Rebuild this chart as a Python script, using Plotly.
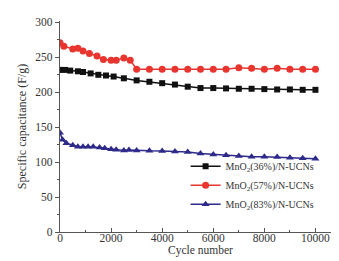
import plotly.graph_objects as go

# ---- data ----
cycles_36 = [0, 200, 400, 700, 900, 1200, 1500, 1800, 2100, 2500, 3000, 3500, 4000,
             4500, 5000, 5500, 6000, 6500, 7000, 7500, 8000, 8500, 9000, 9500, 10000]
cap_36 = [232, 232, 231, 230, 229, 227, 225, 224, 222.5, 220, 217, 215, 213,
          211, 208, 206, 206, 205.5, 205, 205, 204.5, 204, 204, 203.5, 203.5]

cycles_57 = [0, 150, 500, 700, 900, 1150, 1450, 1700, 2000, 2200, 2500, 2750, 3000,
             3500, 4000, 4500, 5000, 5500, 6000, 6500, 7000, 7500, 8000, 8500, 9000, 9500, 10000]
cap_57 = [271, 266, 262, 263, 259, 255.5, 252, 247, 246, 246, 249, 246, 233,
          233, 233, 233, 233, 233, 233, 233, 235, 234.5, 233, 234.5, 233, 233, 233]

cycles_83 = [0, 100, 250, 500, 700, 900, 1100, 1300, 1550, 1750, 2000, 2200, 2500, 2700,
             3000, 3500, 4000, 4500, 5000, 5500, 6000, 6500, 7000, 7500, 8000, 8500, 9000, 9500, 10000]
cap_83 = [142, 132, 127, 124, 122, 122, 122, 122, 121, 120, 118.6, 117.7, 116.7, 117.5,
          116.7, 116.3, 116, 115.3, 114.4, 112.4, 111, 110, 108.6, 107.6, 107.6, 107.2, 106.2, 105.7, 104.8]

names = ["MnO<sub>2</sub>(36%)/N-UCNs", "MnO<sub>2</sub>(57%)/N-UCNs", "MnO<sub>2</sub>(83%)/N-UCNs"]

x_ticks = [0, 2000, 4000, 6000, 8000, 10000]
y_ticks = [0, 50, 100, 150, 200, 250, 300]

FONT = "Liberation Serif, Times New Roman, serif"

fig = go.Figure()
fig.add_trace(go.Scatter(x=cycles_36, y=cap_36, name=names[0], mode="lines+markers",
                         line=dict(color="#111111", width=1.5),
                         marker=dict(symbol="square", size=6, color="#111111")))
fig.add_trace(go.Scatter(x=cycles_57, y=cap_57, name=names[1], mode="lines+markers",
                         line=dict(color="#e8352f", width=1.5),
                         marker=dict(symbol="circle", size=7, color="#e8352f")))
fig.add_trace(go.Scatter(x=cycles_83, y=cap_83, name=names[2], mode="lines+markers",
                         line=dict(color="#2d2a8a", width=1.5),
                         marker=dict(symbol="triangle-up", size=7, color="#2d2a8a")))

fig.update_layout(
    width=339, height=261,
    margin=dict(l=52, r=6, t=13, b=37),
    paper_bgcolor="white", plot_bgcolor="white",
    font=dict(family=FONT, size=11.5, color="#333333"),
    showlegend=True,
    legend=dict(x=0.447, y=0.38, xanchor="left", yanchor="top",
                font=dict(family=FONT, size=10, color="#333333"),
                bgcolor="rgba(0,0,0,0)", tracegroupgap=0, itemwidth=30),
    xaxis=dict(range=[0, 11000], tickvals=x_ticks, ticktext=[str(v) for v in x_ticks],
               showgrid=False, zeroline=False, showline=True, linecolor="#555555", linewidth=1.2,
               ticks="inside", ticklen=4, tickcolor="#555555", ticklabelstandoff=-5,
               minor=dict(dtick=1000, ticks="inside", ticklen=2, tickcolor="#555555"),
               title=dict(text="Cycle number", font=dict(size=11.5), standoff=0)),
    yaxis=dict(range=[0, 302], tickvals=y_ticks, ticktext=[str(v) for v in y_ticks],
               showgrid=False, zeroline=False, showline=True, linecolor="#555555", linewidth=1.2,
               ticks="outside", ticklen=4, tickcolor="#555555",
               minor=dict(dtick=25, ticks="outside", ticklen=2, tickcolor="#555555"),
               title=dict(text="Specific capacitance (F/g)", font=dict(size=12), standoff=6)),
)

fig.write_html("out.html")
